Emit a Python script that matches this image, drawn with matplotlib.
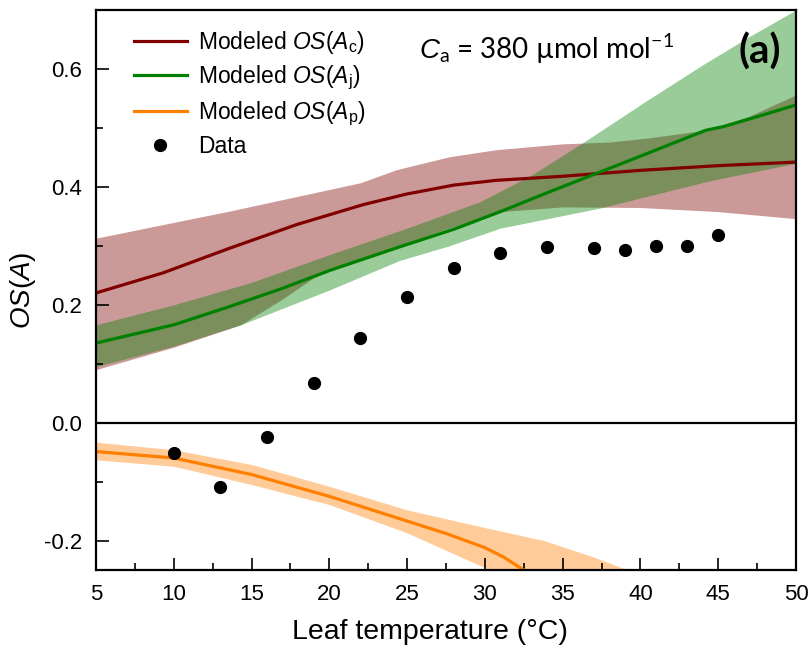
import numpy as np
from matplotlib import pyplot as plt
from matplotlib.ticker import MultipleLocator, FormatStrFormatter

plt.rcParams['font.family'] = ['Liberation Sans', 'DejaVu Sans']
plt.rcParams['mathtext.fontset'] = 'custom'
plt.rcParams['mathtext.rm'] = 'Liberation Sans'
plt.rcParams['mathtext.it'] = 'Liberation Sans:italic'
plt.rcParams['mathtext.sf'] = 'Lato'

# modeled OS(Ac): line and band
t_c = [5, 9.3, 13.6, 17.9, 22.2, 25, 28, 30.7, 35, 40, 45, 50]
os_c = [0.22, 0.254, 0.296, 0.336, 0.37, 0.388, 0.403, 0.411, 0.418, 0.428, 0.436, 0.442]
t_c_hi = [5, 13.6, 22, 24.3, 27.7, 30.7, 35, 38, 40.5, 44.4, 47, 50]
os_c_hi = [0.313, 0.359, 0.407, 0.429, 0.451, 0.463, 0.473, 0.476, 0.483, 0.497, 0.52, 0.556]
t_c_lo = [5, 10, 14.3, 17, 19, 22, 25, 27.7, 31, 35, 40, 45, 50]
os_c_lo = [0.09, 0.128, 0.166, 0.21, 0.246, 0.278, 0.305, 0.33, 0.358, 0.366, 0.365, 0.358, 0.346]

# modeled OS(Aj): line and band
t_j = [5, 10, 13.6, 17, 20, 24.5, 28, 31.1, 34, 37, 40, 42, 44.2, 45.3, 47.5, 50]
os_j = [0.135, 0.166, 0.197, 0.228, 0.258, 0.298, 0.328, 0.359, 0.39, 0.421, 0.452, 0.473,
        0.496, 0.502, 0.519, 0.539]
t_j_hi = [5, 10, 15, 20, 25, 29.7, 33, 36.3, 40.5, 44, 47, 50]
os_j_hi = [0.166, 0.2, 0.238, 0.285, 0.33, 0.375, 0.42, 0.475, 0.548, 0.607, 0.655, 0.70]
t_j_lo = [5, 10, 14.3, 20, 24.5, 27.7, 31, 37.4, 44.4, 50]
os_j_lo = [0.095, 0.13, 0.166, 0.225, 0.275, 0.30, 0.33, 0.364, 0.41, 0.44]

# modeled OS(Ap): line and band
t_p = [5, 10, 15, 20, 25, 27.5, 30, 31.2, 32.5, 35]
os_p = [-0.049, -0.06, -0.088, -0.125, -0.167, -0.188, -0.212, -0.228, -0.25, -0.29]
t_p_hi = [5, 10, 15, 20, 25, 30, 33.8, 37, 40]
os_p_hi = [-0.033, -0.046, -0.071, -0.108, -0.148, -0.178, -0.2, -0.228, -0.258]
t_p_lo = [5, 10, 15, 20, 25, 30, 33]
os_p_lo = [-0.063, -0.074, -0.105, -0.139, -0.187, -0.246, -0.29]

# measured
t_obs = [10, 13, 16, 19, 22, 25, 28, 31, 34, 37, 39, 41, 43, 45]
os_obs = [-0.051, -0.109, -0.025, 0.068, 0.143, 0.213, 0.262, 0.288, 0.298, 0.297, 0.293,
          0.299, 0.299, 0.318]

c_red = '#800000'
c_green = '#008000'
c_orange = '#FF8000'


def band(ax, t_lo, lo, t_hi, hi, color):
    # bands are read on different x grids, put both on one grid
    tt = np.union1d(t_lo, t_hi)
    ax.fill_between(tt, np.interp(tt, t_lo, lo), np.interp(tt, t_hi, hi),
                    color=color, alpha=0.4, lw=0)


fig = plt.figure(figsize=(8.08, 6.51), dpi=100)
ax = fig.add_axes([0.1188, 0.1244, 0.8663, 0.8602])

band(ax, t_c_lo, os_c_lo, t_c_hi, os_c_hi, c_red)
ax.plot(t_c, os_c, color=c_red, lw=2.3, label=r'Modeled $\mathit{OS}(\mathit{A}_\mathrm{c})$')
band(ax, t_j_lo, os_j_lo, t_j_hi, os_j_hi, c_green)
ax.plot(t_j, os_j, color=c_green, lw=2.3, label=r'Modeled $\mathit{OS}(\mathit{A}_\mathrm{j})$')
band(ax, t_p_lo, os_p_lo, t_p_hi, os_p_hi, c_orange)
ax.plot(t_p, os_p, color=c_orange, lw=2.3, label=r'Modeled $\mathit{OS}(\mathit{A}_\mathrm{p})$')
ax.plot(t_obs, os_obs, 'o', color='black', ms=8.5, label='Data', zorder=5)
ax.axhline(0, color='black', lw=1.6, zorder=6)

ax.set_xlim(5, 50)
ax.set_ylim(-0.25, 0.7)
ax.xaxis.set_major_locator(MultipleLocator(5))
ax.xaxis.set_minor_locator(MultipleLocator(2.5))
ax.yaxis.set_major_locator(MultipleLocator(0.2))
ax.yaxis.set_minor_locator(MultipleLocator(0.1))
ax.yaxis.set_major_formatter(FormatStrFormatter('%.1f'))
ax.tick_params(which='both', direction='in', width=1.2, labelsize=16)
ax.tick_params(which='major', length=9, pad=10)
ax.tick_params(which='minor', length=5)
for s in ax.spines.values():
    s.set_linewidth(1.6)

ax.set_xlabel('Leaf temperature (°C)', fontsize=20.5)
ax.xaxis.set_label_coords(0.477, -0.0875)
ax.set_ylabel(r'$\mathit{OS}(\mathit{A})$', fontsize=20)

ax.legend(loc='upper left', bbox_to_anchor=(0.041, 0.983), frameon=False, fontsize=16.5,
          handlelength=2.3, handletextpad=0.5, labelspacing=0.33, borderaxespad=0)

ax.text(0.462, 0.93, r'$\mathit{C}_\mathsf{a}$ = 380 µmol mol$^\mathsf{-1}$', transform=ax.transAxes,
        fontsize=20, family='Lato', va='center')
ax.text(0.978, 0.925, '(a)', transform=ax.transAxes, fontsize=29, family='Lato',
        fontweight='bold', ha='right', va='center')

plt.savefig('out.png')
